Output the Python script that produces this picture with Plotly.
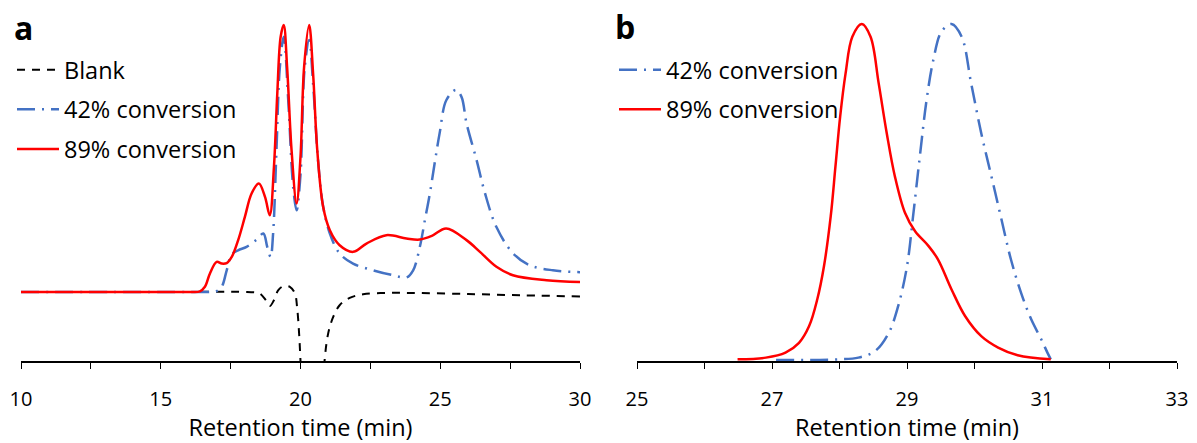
import plotly.graph_objects as go

# ---- Panel a: full chromatograms (normalised detector signal) ----
blank_time = [10.0, 12.0, 14.0, 16.0, 18.0, 18.4, 18.55, 18.76, 18.9, 19.05, 19.2, 19.38,
              19.62, 19.8, 19.88, 19.95, 20.0, 20.08, 20.75, 20.86, 20.99, 21.17, 21.4,
              21.76, 22.24, 23.07, 24.0, 26.0, 28.0, 30.0]
blank_signal = [0.0, 0.0, 0.0, 0.0, 0.0, -0.002, -0.006, -0.031, -0.053, -0.031, 0.006, 0.021,
                0.019, -0.006, -0.06, -0.156, -0.259, -0.45, -0.45, -0.259, -0.156, -0.094, -0.05,
                -0.0225, -0.009, -0.004, -0.004, -0.008, -0.013, -0.017]

conv42_time = [10.0, 14.0, 16.0, 16.8, 17.0, 17.18, 17.36, 17.54, 17.77, 18.07, 18.43, 18.67,
               18.81, 18.93, 19.02, 19.14, 19.26, 19.40, 19.56, 19.74, 19.86, 20.0, 20.15,
               20.31, 20.45, 20.63, 20.81, 21.05, 21.4, 21.88, 22.6, 23.31, 23.79, 24.03,
               24.27, 24.45, 24.63, 24.81, 24.98, 25.22, 25.56, 25.76, 25.94, 26.3, 26.6,
               27.01, 27.6, 28.2, 29.03, 30.0]
conv42_signal = [0.0, 0.0, 0.0, 0.0, 0.003, 0.019, 0.081, 0.141, 0.156, 0.169, 0.196, 0.219,
                 0.169, 0.131, 0.219, 0.53, 0.84, 0.956, 0.72, 0.39, 0.306, 0.44, 0.84,
                 0.944, 0.78, 0.49, 0.32, 0.219, 0.144, 0.106, 0.081, 0.0625, 0.054, 0.081,
                 0.169, 0.269, 0.37, 0.489, 0.596, 0.719, 0.757, 0.731, 0.632, 0.494, 0.37,
                 0.243, 0.145, 0.1, 0.081, 0.074]

conv89_time = [10.0, 14.0, 16.0, 16.4, 16.58, 16.76, 17.0, 17.18, 17.36, 17.54, 17.77, 18.01,
               18.25, 18.51, 18.73, 18.9, 19.05, 19.17, 19.29, 19.40, 19.52, 19.68, 19.86,
               20.0, 20.13, 20.31, 20.45, 20.6, 20.81, 21.05, 21.4, 21.88, 22.36, 23.07,
               23.79, 24.26, 24.7, 25.21, 25.94, 26.42, 27.01, 27.6, 28.8, 30.0]
conv89_signal = [0.0, 0.0, 0.0, 0.002, 0.019, 0.069, 0.1125, 0.106, 0.108, 0.131, 0.194, 0.281,
                 0.369, 0.406, 0.356, 0.2875, 0.469, 0.744, 0.956, 1.0, 0.844, 0.531, 0.331,
                 0.506, 0.844, 1.0, 0.819, 0.531, 0.319, 0.231, 0.175, 0.15, 0.181, 0.2125,
                 0.2, 0.196, 0.21, 0.2375, 0.194, 0.15, 0.094, 0.0625, 0.044, 0.0375]

# ---- Panel b: polymer peak region (each trace normalised to its maximum) ----
b42_time = [27.06, 27.99, 28.28, 28.53, 28.73, 28.87, 29.0, 29.09, 29.19, 29.29, 29.39, 29.51,
            29.66, 29.81, 29.95, 30.1, 30.25, 30.4, 30.54, 30.69, 30.84, 30.99, 31.08, 31.13]
b42_signal = [0.0, 0.002, 0.007, 0.027, 0.081, 0.161, 0.279, 0.428, 0.606, 0.774, 0.893, 0.977,
              1.0, 0.962, 0.824, 0.675, 0.547, 0.418, 0.299, 0.2, 0.121, 0.061, 0.022, 0.002]

b89_time = [26.49, 26.91, 27.2, 27.4, 27.55, 27.67, 27.77, 27.87, 27.94, 28.01, 28.09, 28.19,
            28.33, 28.46, 28.58, 28.7, 28.82, 28.97, 29.12, 29.32, 29.46, 29.66, 29.86, 30.1,
            30.35, 30.64, 31.13]
b89_signal = [0.002, 0.007, 0.022, 0.051, 0.101, 0.18, 0.279, 0.428, 0.576, 0.725, 0.853, 0.962,
              1.0, 0.962, 0.824, 0.675, 0.547, 0.438, 0.383, 0.339, 0.299, 0.21, 0.131, 0.071,
              0.037, 0.014, 0.002]

ticks_a = [10, 15, 20, 25, 30]
ticks_b = [25, 27, 29, 31, 33]

RED = "#ff0000"
BLUE = "#4472c4"
FONT = "Open Sans"
DASHDOT = "18px,7px,2px,7px"

W, H = 1197, 443

fig = go.Figure()

line_kw = dict(mode="lines", line_shape="spline")

fig.add_trace(go.Scatter(x=blank_time, y=blank_signal, name="Blank", legend="legend",
                         legendgroup="a1", xaxis="x", yaxis="y",
                         line=dict(color="black", width=2, dash="8px,7px", smoothing=1.0), **line_kw))
fig.add_trace(go.Scatter(x=conv42_time, y=conv42_signal, name="42% conversion", legend="legend",
                         legendgroup="a2", xaxis="x", yaxis="y",
                         line=dict(color=BLUE, width=2.5, dash=DASHDOT, smoothing=1.0), **line_kw))
fig.add_trace(go.Scatter(x=conv89_time, y=conv89_signal, name="89% conversion", legend="legend",
                         legendgroup="a3", xaxis="x", yaxis="y",
                         line=dict(color=RED, width=2.5, smoothing=1.0), **line_kw))

fig.add_trace(go.Scatter(x=b42_time, y=b42_signal, name="42% conversion", legend="legend2",
                         legendgroup="b1", xaxis="x2", yaxis="y2",
                         line=dict(color=BLUE, width=2.5, dash=DASHDOT, smoothing=1.0), **line_kw))
fig.add_trace(go.Scatter(x=b89_time, y=b89_signal, name="89% conversion", legend="legend2",
                         legendgroup="b2", xaxis="x2", yaxis="y2",
                         line=dict(color=RED, width=2.5, smoothing=1.0), **line_kw))

y_dom = [(H - 361) / H, (H - 20) / H]

xaxis_common = dict(
    showline=True, linecolor="black", linewidth=1.5, mirror=False,
    ticks="outside", ticklen=6, tickwidth=1.2, tickcolor="black",
    showgrid=False, zeroline=False, automargin=False, layer="below traces",
    tickfont=dict(family=FONT, size=20, color="black"),
    ticklabelstandoff=13,
)
title_font = dict(family=FONT, size=23.5, color="black")
legend_font = dict(family=FONT, size=23.5, color="black")

fig.update_layout(
    width=W, height=H,
    margin=dict(l=0, r=0, t=0, b=0),
    paper_bgcolor="white", plot_bgcolor="white",
    font=dict(family=FONT, color="black"),
    showlegend=True,
    xaxis=dict(**xaxis_common,
               domain=[21 / W, 580 / W], range=[10, 30], anchor="y",
               tickmode="array", tickvals=ticks_a, ticktext=[str(v) for v in ticks_a],
               minor=dict(dtick=2.5, tick0=10, ticks="outside", ticklen=6, tickwidth=1.2, tickcolor="black"),
               title=dict(text="Retention time (min)", font=title_font, standoff=13)),
    yaxis=dict(domain=y_dom, range=[-0.259, 1.019], visible=False, anchor="x"),
    xaxis2=dict(**xaxis_common,
                domain=[637 / W, 1177 / W], range=[25, 33], anchor="y2",
                tickmode="array", tickvals=ticks_b, ticktext=[str(v) for v in ticks_b],
                minor=dict(dtick=1, tick0=25, ticks="outside", ticklen=6, tickwidth=1.2, tickcolor="black"),
                title=dict(text="Retention time (min)", font=title_font, standoff=13)),
    yaxis2=dict(domain=y_dom, range=[-0.003, 1.012], visible=False, anchor="x2"),
    legend=dict(x=12 / W, y=1 - 48 / H, xanchor="left", yanchor="top",
                font=legend_font, itemwidth=42,
                tracegroupgap=6, bgcolor="rgba(0,0,0,0)", traceorder="grouped"),
    legend2=dict(x=614 / W, y=1 - 48 / H, xanchor="left", yanchor="top",
                 font=legend_font, itemwidth=42,
                 tracegroupgap=6, bgcolor="rgba(0,0,0,0)", traceorder="grouped"),
    annotations=[
        dict(text="<b>a</b>", x=12 / W, y=1 - 28 / H, xref="paper", yref="paper",
             xanchor="left", yanchor="middle", showarrow=False,
             font=dict(family=FONT, size=32, color="black")),
        dict(text="<b>b</b>", x=613 / W, y=1 - 26 / H, xref="paper", yref="paper",
             xanchor="left", yanchor="middle", showarrow=False,
             font=dict(family=FONT, size=32, color="black")),
    ],
)

fig.write_html("out.html")
